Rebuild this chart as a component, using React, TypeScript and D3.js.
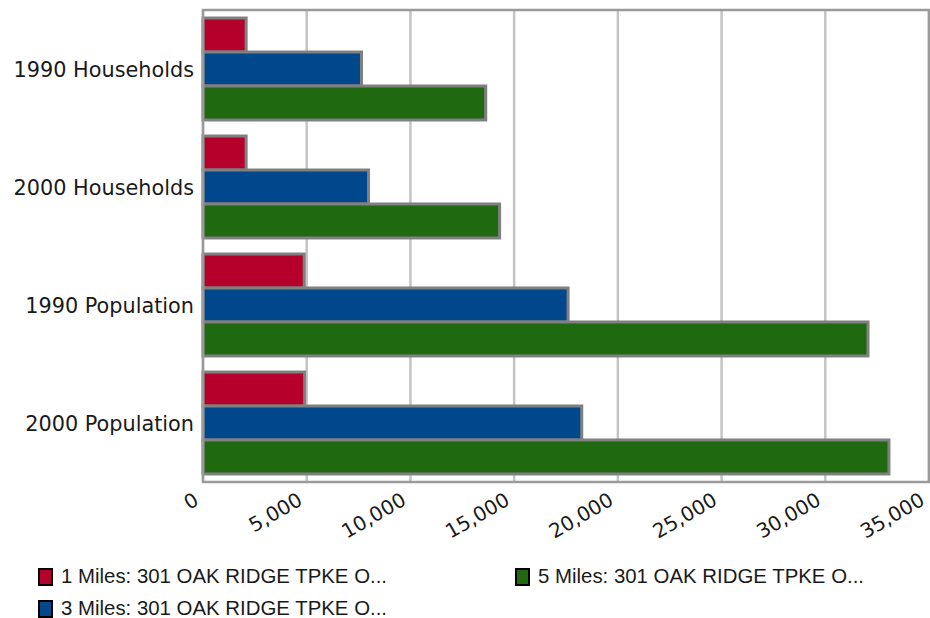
import * as d3 from 'd3';

const categories = ['1990 Households', '2000 Households', '1990 Population', '2000 Population'];
const seriesNames = [
    '1 Miles: 301 OAK RIDGE TPKE O...',
    '3 Miles: 301 OAK RIDGE TPKE O...',
    '5 Miles: 301 OAK RIDGE TPKE O...',
];
const oneMile = [2080, 2080, 4880, 4900];
const threeMiles = [7640, 7980, 17600, 18260];
const fiveMiles = [13630, 14300, 32060, 33070];
const xTicks = [0, 5000, 10000, 15000, 20000, 25000, 30000, 35000];

const seriesValues = [oneMile, threeMiles, fiveMiles];
const colors = ['#b4002a', '#00478c', '#1f6a10'];

const width = 930;
const height = 618;
const marginTop = 10;
const marginLeft = 203;
const marginRight = 1;
const plotBottom = 482;

export default function App() {
    const x = d3.scaleLinear()
        .domain([0, 35000])
        .range([marginLeft, width - marginRight]);

    const y0 = d3.scaleBand<string>()
        .domain(categories)
        .range([marginTop, plotBottom])
        .paddingInner(0.136)
        .paddingOuter(0.068);

    const y1 = d3.scaleBand<number>()
        .domain(d3.range(seriesNames.length))
        .range([0, y0.bandwidth()]);

    const fmt = d3.format(',');

    // legend slots: two columns, filled column-wise like the original
    const legendPos = [
        { x: 38, y: 568 },
        { x: 38, y: 600 },
        { x: 515, y: 568 },
    ];

    return (
        <div style={{ position: 'absolute', left: 0, top: 0 }}>
            <svg width={width} height={height} style={{ display: 'block', background: 'white' }}>
                {/* grid */}
                <g>
                    {xTicks.map((t) => (
                        <line key={t} x1={x(t)} x2={x(t)} y1={marginTop} y2={plotBottom} stroke="#c4c4c4" strokeWidth={2.5} />
                    ))}
                </g>

                {/* bars */}
                <g>
                    {categories.map((cat, ci) => (
                        <g key={cat} transform={`translate(0, ${y0(cat)})`}>
                            {seriesValues.map((vals, si) => (
                                <rect
                                    key={si}
                                    x={x(0)}
                                    y={y1(si)}
                                    width={x(vals[ci]) - x(0)}
                                    height={y1.bandwidth()}
                                    fill={colors[si]}
                                    stroke="#808080"
                                    strokeWidth={3}
                                />
                            ))}
                        </g>
                    ))}
                </g>

                {/* plot frame */}
                <rect x={marginLeft} y={marginTop} width={x(35000) - marginLeft} height={plotBottom - marginTop} fill="none" stroke="#9a9a9a" strokeWidth={2.5} />

                {/* category labels */}
                <g fontFamily="DejaVu Sans" fontSize={20.8} fill="#1a1a1a">
                    {categories.map((cat) => (
                        <text key={cat} x={194} y={(y0(cat) ?? 0) + y0.bandwidth() / 2 + 7.5} textAnchor="end">{cat}</text>
                    ))}
                </g>

                {/* x tick labels */}
                <g fontFamily="DejaVu Sans" fontSize={20} fill="#1a1a1a">
                    {xTicks.map((t) => (
                        <text key={t} transform={`translate(${x(t) - 3}, ${plotBottom + 22}) rotate(-30)`} textAnchor="end">{fmt(t)}</text>
                    ))}
                </g>

                {/* legend */}
                <g fontFamily="Liberation Sans" fontSize={20.4} fill="#1a1a1a">
                    {seriesNames.map((name, i) => (
                        <g key={name} transform={`translate(${legendPos[i].x}, ${legendPos[i].y})`}>
                            <rect x={1} y={1} width={13} height={16} fill={colors[i]} stroke="#000" strokeWidth={2} />
                            <text x={23} y={15}>{name}</text>
                        </g>
                    ))}
                </g>
            </svg>
        </div>
    );
}
